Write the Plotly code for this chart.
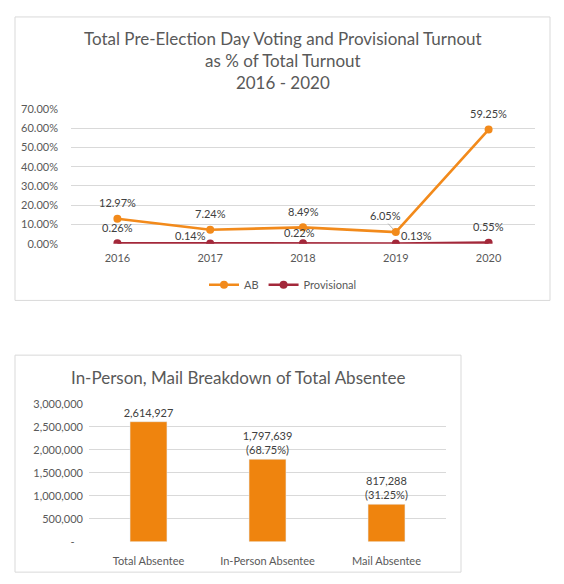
import plotly.graph_objects as go

W, H = 564, 584
OFF = 8  # page body margin
FW, FH = W - OFF, H - OFF

years = ["2016", "2017", "2018", "2019", "2020"]
ab_pct = [12.97, 7.24, 8.49, 6.05, 59.25]
prov_pct = [0.26, 0.14, 0.22, 0.13, 0.55]

absentee_cats = ["Total Absentee", "In-Person Absentee", "Mail Absentee"]
absentee_vals = [2614927, 1797639, 817288]
absentee_share = [None, 68.75, 31.25]

pct_ticks = [0, 10, 20, 30, 40, 50, 60, 70]
count_ticks = [0, 500000, 1000000, 1500000, 2000000, 2500000, 3000000]

ORANGE = "#F28A1B"
DARKRED = "#A3283A"
BAR = "#EF840E"
GRID = "#D9D9D9"
TICK = "#595959"
LABEL = "#404040"
FONT = "Lato, 'Open Sans', sans-serif"


def px_x(p):
    return (p - OFF) / FW


def px_y(p):
    return 1 - (p - OFF) / FH


fig = go.Figure()

fig.add_trace(go.Scatter(
    x=list(range(len(years))), y=ab_pct, name="AB", mode="lines+markers",
    line=dict(color=ORANGE, width=2.6), marker=dict(color=ORANGE, size=8),
    xaxis="x", yaxis="y",
))
fig.add_trace(go.Scatter(
    x=list(range(len(years))), y=prov_pct, name="Provisional", mode="lines+markers",
    line=dict(color=DARKRED, width=2.6), marker=dict(color=DARKRED, size=8),
    xaxis="x", yaxis="y",
))

bar_text = []
for v, s in zip(absentee_vals, absentee_share):
    t = f"{v:,}"
    if s is not None:
        t += f"<br>({s:.2f}%)"
    bar_text.append(t)

fig.add_trace(go.Bar(
    x=list(range(len(absentee_cats))), y=absentee_vals, marker_color=BAR,
    text=bar_text, textposition="outside", constraintext="none", cliponaxis=False,
    textfont=dict(size=11, color=LABEL, family=FONT),
    showlegend=False, xaxis="x2", yaxis="y2", width=0.31,
))

# data labels for the line chart
ab_shift = [(0, 16), (0, 16), (0, 16), (-10, 17), (0, 16)]
prov_shift = [(0, 16), (-20, 8), (-4, 11), (21, 8), (0, 16)]
annotations = []
for i, (v, (dx, dy)) in enumerate(zip(ab_pct, ab_shift)):
    annotations.append(dict(
        x=i, y=v, xref="x", yref="y", text=f"{v:.2f}%", showarrow=False,
        xshift=dx, yshift=dy, font=dict(size=11, color=LABEL, family=FONT),
    ))
for i, (v, (dx, dy)) in enumerate(zip(prov_pct, prov_shift)):
    annotations.append(dict(
        x=i, y=v, xref="x", yref="y", text=f"{v:.2f}%", showarrow=False,
        xshift=dx, yshift=dy, font=dict(size=11, color=LABEL, family=FONT),
    ))

# leader line for the 2019 AB label
annotations.append(dict(
    x=3, y=ab_pct[3], xref="x", yref="y", ax=-9, ay=-10, text="",
    showarrow=True, arrowhead=0, arrowwidth=0.8, arrowcolor="#A6A6A6", standoff=4,
))

annotations.append(dict(
    x=px_x(282.5), y=px_y(55), xref="paper", yref="paper", showarrow=False,
    xanchor="center", yanchor="middle",
    text="Total Pre-Election Day Voting and Provisional Turnout<br>as % of Total Turnout<br>2016 - 2020",
    font=dict(size=17, color="#595959", family=FONT), align="center",
))
annotations.append(dict(
    x=px_x(238), y=px_y(379), xref="paper", yref="paper", showarrow=False,
    xanchor="center", yanchor="middle",
    text="In-Person, Mail Breakdown of Total Absentee",
    font=dict(size=17, color="#595959", family=FONT),
))

shapes = [
    dict(type="rect", xref="paper", yref="paper", x0=px_x(15), x1=px_x(550),
         y0=px_y(300), y1=px_y(10), line=dict(color=GRID, width=1)),
    dict(type="rect", xref="paper", yref="paper", x0=px_x(15), x1=px_x(461),
         y0=px_y(578), y1=px_y(356), line=dict(color=GRID, width=1)),
]

fig.update_layout(
    width=FW, height=FH,
    margin=dict(l=0, r=0, t=0, b=0),
    paper_bgcolor="white", plot_bgcolor="white",
    font=dict(family=FONT, size=11, color=TICK),
    showlegend=True,
    legend=dict(orientation="h", x=px_x(283), xanchor="center", y=px_y(284), yanchor="middle",
                font=dict(size=11, color=TICK), itemwidth=30, tracegroupgap=0),
    annotations=annotations, shapes=shapes,
    xaxis=dict(domain=[px_x(71), px_x(535)], range=[-0.5, 4.5], tickvals=list(range(len(years))),
               ticktext=years, showgrid=False, zeroline=False, showline=False, ticks="",
               ticklabelstandoff=6, anchor="y", fixedrange=True),
    yaxis=dict(domain=[px_y(242), px_y(104)], range=[0, 70], tickvals=pct_ticks,
               ticktext=[f"{t:.2f}%" for t in pct_ticks], gridcolor=GRID, gridwidth=1,
               zeroline=False, showline=False, ticks="", ticklabelstandoff=12, anchor="x"),
    xaxis2=dict(domain=[px_x(89), px_x(446)], range=[-0.5, 2.5], tickvals=list(range(len(absentee_cats))),
                ticktext=absentee_cats, showgrid=False, zeroline=False, showline=False, ticks="",
                ticklabelstandoff=11, anchor="y2"),
    yaxis2=dict(domain=[px_y(547), px_y(406)], range=[0, 3000000], tickvals=count_ticks,
                ticktext=["-\u00a0\u00a0\u00a0" if t == 0 else f"{t:,}" for t in count_ticks],
                gridcolor=GRID, zeroline=False, showline=False, ticks="", ticklabelstandoff=5,
                anchor="x2"),
)

fig.write_html("out.html")
